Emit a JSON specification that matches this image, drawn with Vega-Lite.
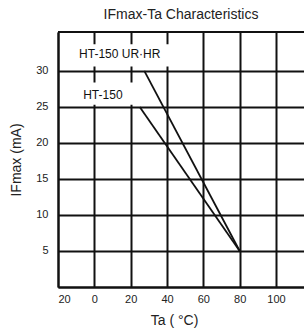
{
  "$schema": "https://vega.github.io/schema/vega-lite/v6.json",
  "width": 246,
  "height": 255,
  "autosize": {"type": "none"},
  "padding": {"left": 58, "top": 32, "right": 0, "bottom": 45},
  "background": "white",
  "config": {
    "view": {"stroke": null},
    "font": "Liberation Sans",
    "axis": {
      "grid": true,
      "gridColor": "#111",
      "gridWidth": 2,
      "gridOpacity": 1,
      "ticks": false,
      "domainColor": "#111",
      "domainWidth": 2,
      "labelFont": "Liberation Sans",
      "labelFontSize": 11,
      "labelColor": "#222",
      "labelOverlap": false,
      "titleFont": "Liberation Sans",
      "titleFontSize": 14,
      "titleFontWeight": "normal",
      "titleColor": "#222"
    }
  },
  "title": {
    "text": "IFmax-Ta Characteristics",
    "fontSize": 14,
    "fontWeight": "normal",
    "font": "Liberation Sans",
    "color": "#222",
    "offset": 9,
    "anchor": "middle",
    "frame": "group"
  },
  "datasets": {
    "curves": [
      {"series": "HT-150 UR·HR", "x1": 27.5, "y1": 30},
      {"series": "HT-150 UR·HR", "x1": 80, "y1": 5},
      {"series": "HT-150", "x1": 25, "y1": 25},
      {"series": "HT-150", "x1": 80, "y1": 5}
    ],
    "masks": [
      {"x1": -10.7, "x2": 41.4, "y1": 30.6, "y2": 33.7},
      {"x1": -10.7, "x2": 22.2, "y1": 25.3, "y2": 28.4}
    ],
    "labels": [
      {"label": "HT-150 UR·HR", "x1": 14, "y1": 32.3},
      {"label": "HT-150", "x1": 4.7, "y1": 26.6}
    ],
    "border": [
      {"y1": 35.4}
    ]
  },
  "encoding": {
    "x": {
      "field": "x1", "type": "quantitative",
      "scale": {"domain": [-20, 115.4], "nice": false, "zero": false},
      "axis": {
        "values": [-20, 0, 20, 40, 60, 80, 100],
        "labelExpr": "datum.value < 0 ? '20' : datum.label",
        "labelPadding": 6,
        "title": "Ta ( °C)",
        "titleX": 116,
        "titleY": 26,
        "titleBaseline": "top"
      }
    },
    "y": {
      "field": "y1", "type": "quantitative",
      "scale": {"domain": [0, 35.4], "nice": false, "zero": true},
      "axis": {
        "values": [0, 5, 10, 15, 20, 25, 30],
        "labelExpr": "datum.value == 0 ? '' : datum.label",
        "labelPadding": 10,
        "title": "IFmax (mA)",
        "titlePadding": 12
      }
    }
  },
  "layer": [
    {
      "data": {"name": "masks"},
      "mark": {"type": "rect", "color": "white"},
      "encoding": {
        "x2": {"field": "x2"},
        "y2": {"field": "y2"}
      }
    },
    {
      "data": {"name": "border"},
      "mark": {"type": "rule", "color": "#111", "strokeWidth": 2},
      "encoding": {
        "x": null
      }
    },
    {
      "data": {"name": "curves"},
      "mark": {"type": "line", "color": "#111", "strokeWidth": 1.8},
      "encoding": {
        "detail": {"field": "series"}
      }
    },
    {
      "data": {"name": "labels"},
      "mark": {"type": "text", "fontSize": 12, "font": "Liberation Sans", "color": "#111", "align": "center", "baseline": "middle"},
      "encoding": {
        "text": {"field": "label"}
      }
    }
  ]
}
